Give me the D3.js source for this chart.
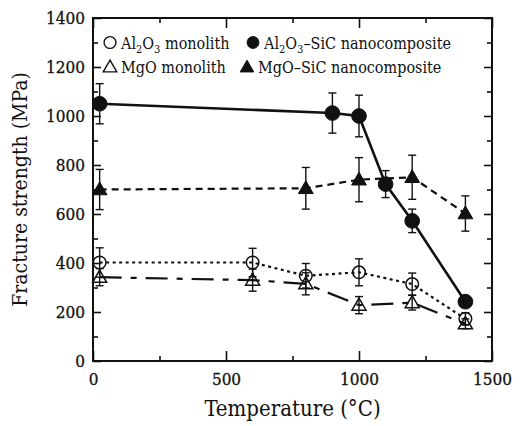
<!DOCTYPE html>
<html>
<head>
<meta charset="utf-8">
<script src="https://cdn.jsdelivr.net/npm/d3@7"></script>
<style>
  html, body { margin: 0; padding: 0; background: #fff; }
  svg { display: block; }
  text { font-family: "DejaVu Serif Condensed", "DejaVu Serif", serif; font-stretch: condensed; fill: #111; }
</style>
</head>
<body>
<svg id="chart" width="524" height="426"></svg>
<script>
// Fracture strength vs temperature for monoliths and SiC nanocomposites
const xTicks = [0, 500, 1000, 1500];
const yTicks = [0, 200, 400, 600, 800, 1000, 1200, 1400];

const tempAlSiC = [25, 900, 1000, 1100, 1200, 1400];
const strengthAlSiC = [1050, 1012, 1000, 722, 572, 242];
const errAlSiC = [82, 82, 85, 55, 48, 20];

const tempMgSiC = [25, 800, 1000, 1200, 1400];
const strengthMgSiC = [700, 705, 740, 750, 602];
const errMgSiC = [82, 85, 90, 90, 72];

const tempAlMono = [25, 600, 800, 1000, 1200, 1400];
const strengthAlMono = [402, 402, 348, 362, 314, 172];
const errAlMono = [60, 58, 50, 55, 45, 25];

const tempMgMono = [25, 600, 800, 1000, 1200, 1400];
const strengthMgMono = [342, 330, 315, 228, 238, 152];
const errMgMono = [35, 45, 45, 35, 30, 20];

const svg = d3.select("#chart");
const m = { left: 93, right: 32, top: 18, bottom: 65 };
const W = 524, H = 426;
const x = d3.scaleLinear().domain([0, 1500]).range([m.left, W - m.right]);
const y = d3.scaleLinear().domain([0, 1400]).range([H - m.bottom, m.top]);

const ink = "#111";
const fontFam = "'DejaVu Serif Condensed', 'DejaVu Serif', serif";

// Frame
svg.append("rect")
  .attr("x", x(0)).attr("y", y(1400))
  .attr("width", x(1500) - x(0)).attr("height", y(0) - y(1400))
  .attr("fill", "none").attr("stroke", ink).attr("stroke-width", 2);

// Inward ticks on all four sides
const yMinor = d3.range(100, 1400, 200);
const xMinor = [250, 750, 1250];
function tickAxis(axisFn, scale, vals, size, tr) {
  const g = svg.append("g").attr("transform", tr)
    .call(axisFn(scale).tickValues(vals).tickSize(size).tickFormat(""));
  g.select(".domain").remove();
  g.selectAll("line").attr("stroke", ink).attr("stroke-width", 1.6);
  return g;
}
tickAxis(d3.axisRight, y, yTicks, 8, `translate(${x(0)},0)`);
tickAxis(d3.axisRight, y, yMinor, 5, `translate(${x(0)},0)`);
tickAxis(d3.axisLeft, y, yTicks, 8, `translate(${x(1500)},0)`);
tickAxis(d3.axisLeft, y, yMinor, 5, `translate(${x(1500)},0)`);
tickAxis(d3.axisTop, x, xTicks, 10, `translate(0,${y(0)})`);
tickAxis(d3.axisTop, x, xMinor, 5, `translate(0,${y(0)})`);
tickAxis(d3.axisBottom, x, xTicks, 10, `translate(0,${y(1400)})`);
tickAxis(d3.axisBottom, x, xMinor, 5, `translate(0,${y(1400)})`);

// Tick labels
const fmt = d3.format("d");
const yAx = svg.append("g").attr("transform", `translate(${x(0)},0)`)
  .call(d3.axisLeft(y).tickValues(yTicks).tickSize(0).tickPadding(8).tickFormat(fmt));
yAx.select(".domain").remove();
yAx.selectAll("text").attr("font-size", 17).style("font-family", fontFam)
  .attr("fill", ink).attr("stroke", ink).attr("stroke-width", 0.3);

const xAx = svg.append("g").attr("transform", `translate(0,${y(0)})`)
  .call(d3.axisBottom(x).tickValues(xTicks).tickSize(0).tickPadding(12).tickFormat(fmt));
xAx.select(".domain").remove();
xAx.selectAll("text").attr("font-size", 17).style("font-family", fontFam)
  .attr("fill", ink).attr("stroke", ink).attr("stroke-width", 0.3);

// Axis titles
svg.append("text")
  .attr("x", (x(0) + x(1500)) / 2).attr("y", 416)
  .attr("text-anchor", "middle").attr("font-size", 22)
  .text("Temperature (°C)");
svg.append("text")
  .attr("transform", `translate(27,${(y(0) + y(1400)) / 2}) rotate(-90)`)
  .attr("text-anchor", "middle").attr("font-size", 21)
  .text("Fracture strength (MPa)");

// Series
const series = [
  { t: tempAlMono, v: strengthAlMono, e: errAlMono, shape: "circle", fill: false, dash: "3,3.5", width: 2.2 },
  { t: tempMgMono, v: strengthMgMono, e: errMgMono, shape: "triangle", fill: false, dash: "22,9,6,9", width: 2.2 },
  { t: tempMgSiC, v: strengthMgSiC, e: errMgSiC, shape: "triangle", fill: true, dash: "7,5", width: 2.2 },
  { t: tempAlSiC, v: strengthAlSiC, e: errAlSiC, shape: "circle", fill: true, dash: null, width: 2.6 }
];

const line = d3.line().x(d => x(d.t)).y(d => y(d.v));
const circleSym = d3.symbol().type(d3.symbolCircle);
const triSym = d3.symbol().type(d3.symbolTriangle);

series.forEach(s => {
  const pts = s.t.map((t, i) => ({ t, v: s.v[i], e: s.e[i] }));
  svg.append("path").datum(pts)
    .attr("d", line).attr("fill", "none").attr("stroke", ink)
    .attr("stroke-width", s.width)
    .attr("stroke-dasharray", s.dash);

  const g = svg.append("g");
  // error bars
  pts.forEach(p => {
    g.append("line").attr("x1", x(p.t)).attr("x2", x(p.t))
      .attr("y1", y(p.v + p.e)).attr("y2", y(p.v - p.e))
      .attr("stroke", ink).attr("stroke-width", 1.4);
    [p.v + p.e, p.v - p.e].forEach(c => {
      g.append("line").attr("x1", x(p.t) - 4).attr("x2", x(p.t) + 4)
        .attr("y1", y(c)).attr("y2", y(c))
        .attr("stroke", ink).attr("stroke-width", 1.4);
    });
  });
  // markers
  g.selectAll("path.mk").data(pts).join("path")
    .attr("class", "mk")
    .attr("d", s.shape === "circle"
      ? circleSym.size(s.fill ? 170 : 125)()
      : triSym.size(s.fill ? 95 : 85)())
    .attr("transform", d => `translate(${x(d.t)},${y(d.v) + (s.shape === "triangle" ? 1 : 0)})`)
    .attr("fill", s.fill ? ink : "none")
    .attr("stroke", ink).attr("stroke-width", s.fill ? 1 : 1.5);
});

// Legend (two rows inside the top of the plot)
const legendRows = [
  [{ shape: "circle", fill: false, label: [["Al"], ["2", "sub"], ["O"], ["3", "sub"], [" monolith"]] , x: 110 },
   { shape: "circle", fill: true, label: [["Al"], ["2", "sub"], ["O"], ["3", "sub"], ["–SiC nanocomposite"]], x: 253 }],
  [{ shape: "triangle", fill: false, label: [["MgO monolith"]], x: 110 },
   { shape: "triangle", fill: true, label: [["MgO–SiC nanocomposite"]], x: 247 }]
];
const legendY = [y(1300), y(1200)];
legendRows.forEach((row, ri) => {
  row.forEach(it => {
    const cy = legendY[ri];
    svg.append("path")
      .attr("d", it.shape === "circle" ? circleSym.size(110)() : triSym.size(80)())
      .attr("transform", `translate(${it.x},${cy + (it.shape === "triangle" ? 1 : 0)})`)
      .attr("fill", it.fill ? ink : "none")
      .attr("stroke", ink).attr("stroke-width", it.fill ? 1 : 1.4);
    const tx = svg.append("text")
      .attr("x", it.x + 11).attr("y", cy + 6)
      .attr("font-size", 16);
    let shifted = false;
    it.label.forEach(([str, kind]) => {
      const ts = tx.append("tspan").text(str);
      if (kind === "sub") {
        ts.attr("dy", shifted ? 0 : 4).attr("font-size", 11);
        shifted = true;
      } else if (shifted) {
        ts.attr("dy", -4);
        shifted = false;
      }
    });
  });
});
</script>
</body>
</html>
